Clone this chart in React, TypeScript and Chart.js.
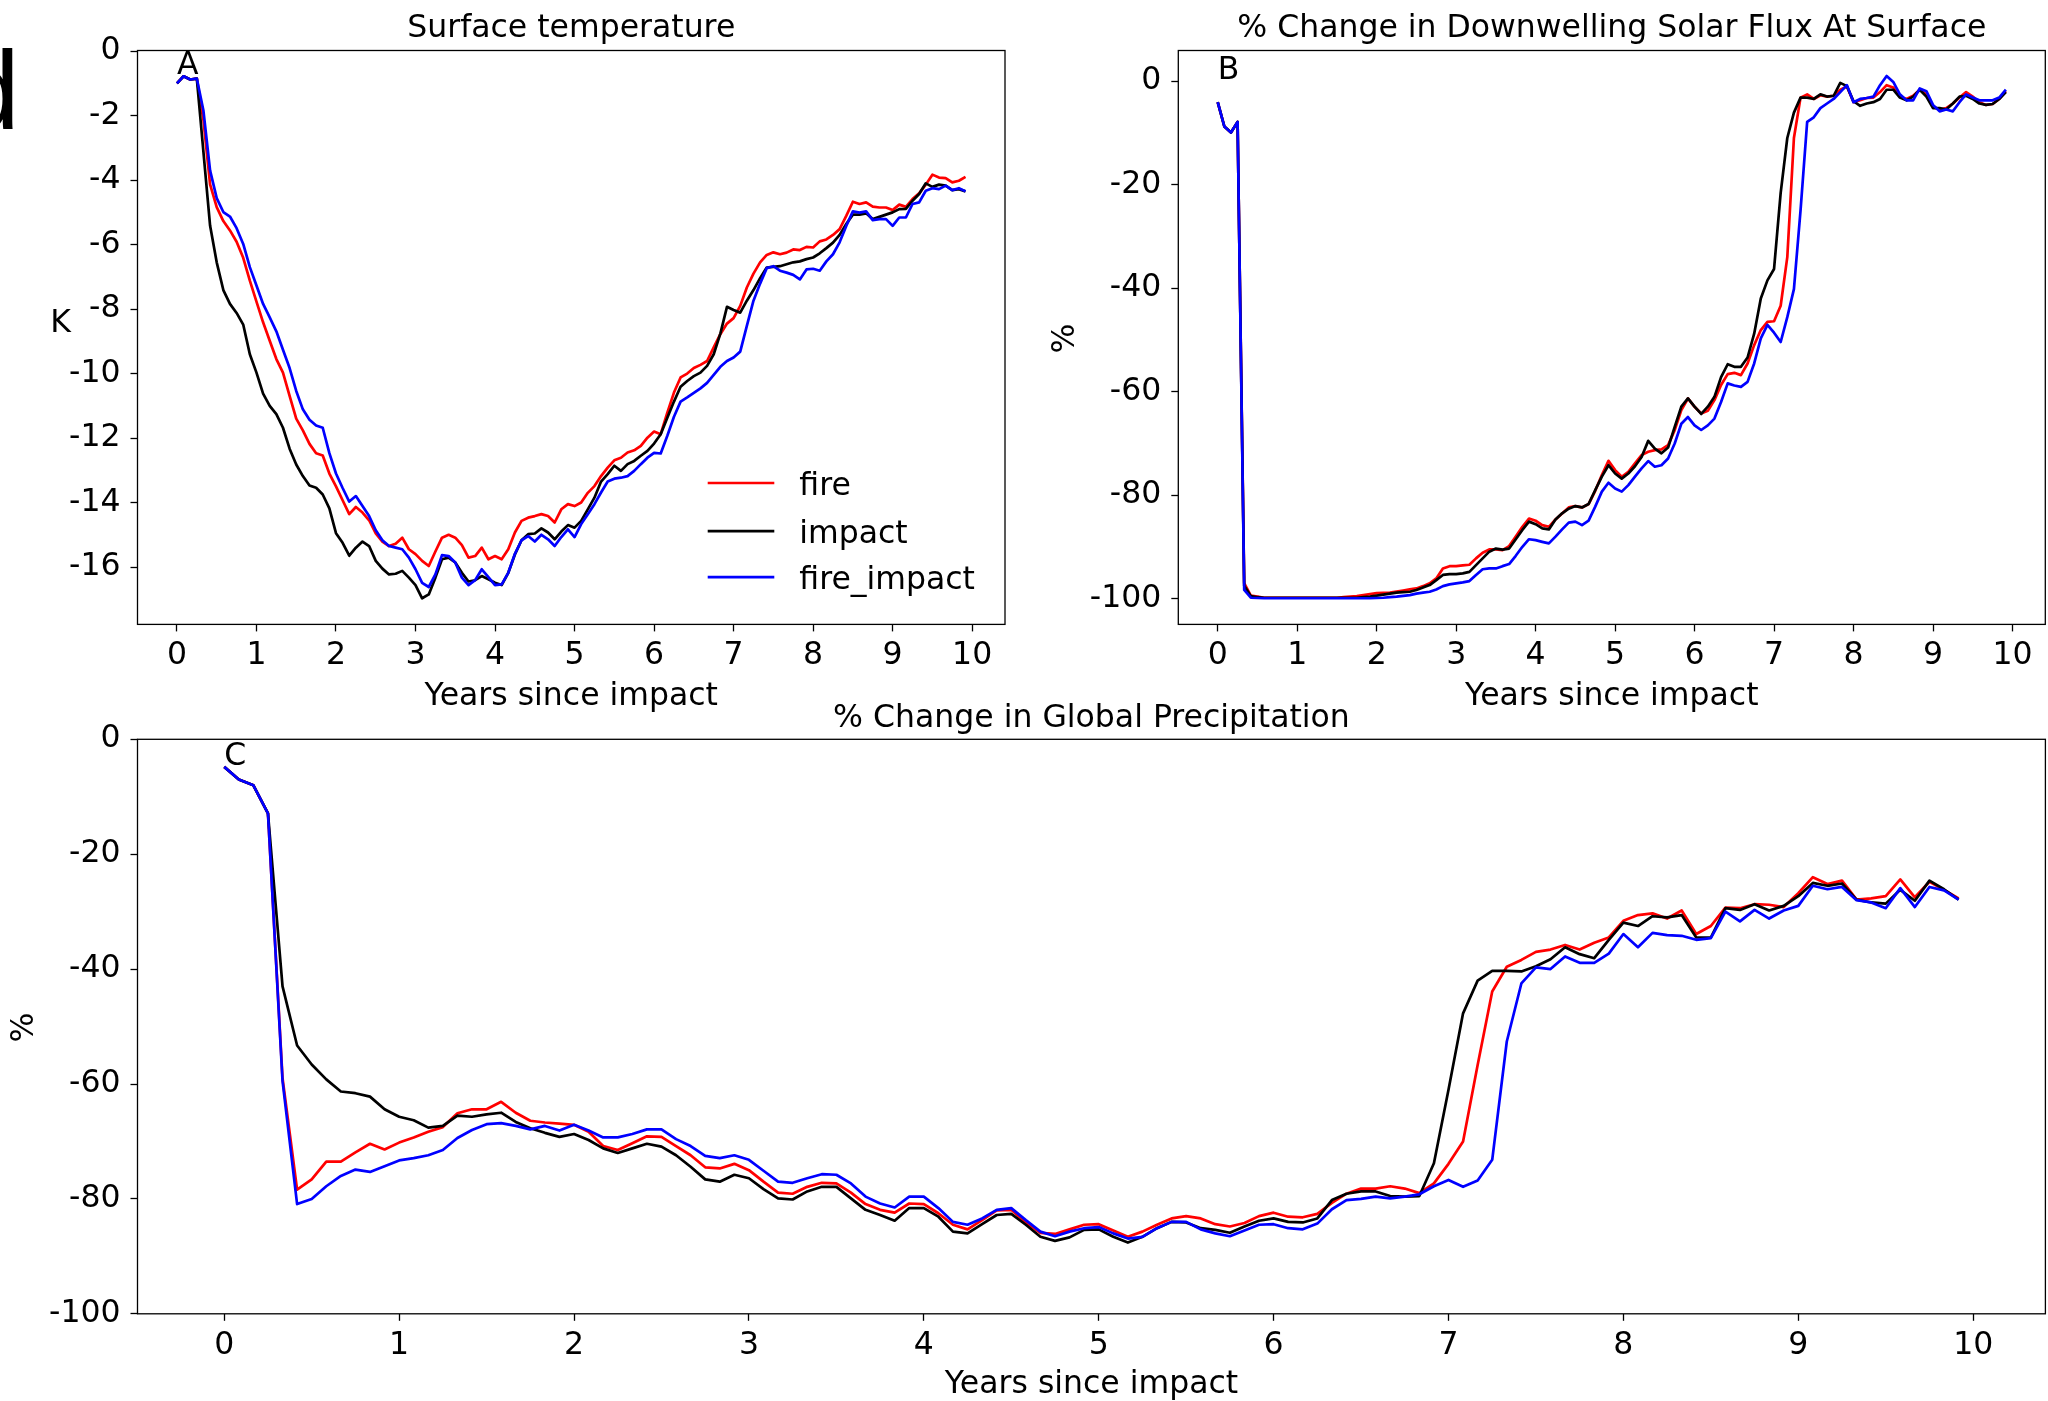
import React, { useEffect, useRef } from "react";
import { Chart, registerables } from "chart.js";

Chart.register(...registerables);

// ---------- data (monthly values, 120 months) ----------
const tempFire = [
  -1.0, -0.78, -0.88, -0.85, -2.14, -4.13, -4.84, -5.27, -5.56, -5.91,
  -6.41, -7.12, -7.77, -8.41, -8.98, -9.55, -9.97, -10.69, -11.4, -11.76,
  -12.18, -12.47, -12.54, -13.1, -13.5, -13.93, -14.36, -14.14, -14.31, -14.55,
  -14.96, -15.21, -15.35, -15.28, -15.09, -15.45, -15.6, -15.81, -15.97, -15.52,
  -15.09, -15.0, -15.09, -15.32, -15.71, -15.66, -15.4, -15.76, -15.66, -15.76,
  -15.45, -14.93, -14.57, -14.47, -14.42, -14.36, -14.42, -14.62, -14.21, -14.05,
  -14.11, -14.0, -13.7, -13.49, -13.18, -12.92, -12.69, -12.61, -12.45, -12.38,
  -12.24, -11.99, -11.8, -11.88, -11.21, -10.59, -10.12, -10.0, -9.83, -9.73,
  -9.61, -9.19, -8.78, -8.45, -8.28, -7.9, -7.33, -6.9, -6.55, -6.32,
  -6.24, -6.3, -6.25, -6.15, -6.17, -6.07, -6.09, -5.9, -5.84, -5.7,
  -5.52, -5.11, -4.67, -4.74, -4.69, -4.82, -4.85, -4.85, -4.93, -4.76,
  -4.83, -4.59, -4.41, -4.14, -3.83, -3.92, -3.94, -4.07, -4.02, -3.9,
];
const tempImpact = [
  -1.0, -0.78, -0.88, -0.85, -3.13, -5.41, -6.55, -7.41, -7.84, -8.12,
  -8.48, -9.4, -9.97, -10.62, -11.0, -11.26, -11.68, -12.33, -12.82, -13.18,
  -13.47, -13.54, -13.75, -14.18, -14.95, -15.25, -15.65, -15.4, -15.21, -15.35,
  -15.81, -16.05, -16.23, -16.21, -16.12, -16.33, -16.56, -16.97, -16.85, -16.33,
  -15.76, -15.71, -15.86, -16.18, -16.45, -16.41, -16.28, -16.38, -16.49, -16.56,
  -16.18, -15.61, -15.17, -14.98, -14.96, -14.8, -14.93, -15.14, -14.9, -14.7,
  -14.78, -14.57, -14.21, -13.85, -13.35, -13.12, -12.86, -13.02, -12.81, -12.71,
  -12.55, -12.4, -12.17, -11.88, -11.37, -10.87, -10.41, -10.23, -10.08, -9.97,
  -9.76, -9.4, -8.76, -7.93, -8.03, -8.11, -7.74, -7.41, -7.04, -6.71,
  -6.69, -6.67, -6.61, -6.55, -6.52, -6.45, -6.4, -6.27, -6.11, -5.94,
  -5.7, -5.36, -5.07, -5.07, -5.03, -5.21, -5.14, -5.07, -5.0, -4.9,
  -4.89, -4.64, -4.43, -4.1, -4.21, -4.14, -4.17, -4.31, -4.28, -4.35,
];
const tempFireImpact = [
  -1.0, -0.78, -0.88, -0.85, -1.85, -3.7, -4.56, -4.99, -5.13, -5.49,
  -5.98, -6.7, -7.27, -7.84, -8.26, -8.69, -9.26, -9.83, -10.54, -11.11,
  -11.43, -11.61, -11.68, -12.47, -13.1, -13.55, -13.97, -13.8, -14.11, -14.42,
  -14.86, -15.17, -15.35, -15.4, -15.45, -15.71, -16.07, -16.49, -16.62, -16.23,
  -15.63, -15.66, -15.86, -16.33, -16.56, -16.41, -16.07, -16.31, -16.56, -16.54,
  -16.18, -15.59, -15.17, -15.04, -15.21, -15.0, -15.14, -15.35, -15.07, -14.83,
  -15.07, -14.67, -14.36, -14.05, -13.69, -13.35, -13.26, -13.23, -13.18, -13.02,
  -12.81, -12.61, -12.46, -12.48, -11.93, -11.34, -10.87, -10.74, -10.6, -10.46,
  -10.29, -10.04, -9.79, -9.61, -9.5, -9.32, -8.52, -7.74, -7.21, -6.73,
  -6.67, -6.81, -6.87, -6.94, -7.08, -6.77, -6.75, -6.81, -6.52, -6.3,
  -5.93, -5.42, -4.97, -5.01, -4.97, -5.24, -5.21, -5.21, -5.42, -5.16,
  -5.16, -4.74, -4.69, -4.33, -4.25, -4.28, -4.17, -4.31, -4.25, -4.35,
];

const fluxFire = [
  -4.08, -8.78, -9.93, -7.89, -97.0, -99.4, -99.6, -99.8, -99.8, -99.8,
  -99.8, -99.8, -99.8, -99.8, -99.8, -99.8, -99.8, -99.8, -99.8, -99.7,
  -99.6, -99.5, -99.3, -99.1, -98.9, -98.85, -98.8, -98.6, -98.4, -98.2,
  -98.0, -97.56, -97.0, -96.07, -94.14, -93.7, -93.7, -93.56, -93.43, -92.2,
  -91.1, -90.47, -90.47, -90.6, -89.82, -88.0, -86.1, -84.5, -84.93, -85.77,
  -86.1, -84.68, -83.52, -82.36, -82.1, -82.36, -81.71, -79.14, -76.1, -73.35,
  -75.15, -76.44, -75.47, -73.86, -72.25, -71.61, -71.28, -71.16, -70.32, -67.43,
  -63.57, -61.31, -62.92, -64.21, -63.7, -61.63, -58.7, -56.6, -56.36, -56.8,
  -54.55, -51.0, -48.1, -46.5, -46.4, -43.4, -34.0, -11.0, -3.2, -2.57,
  -3.46, -2.75, -3.0, -2.84, -1.68, -1.06, -4.08, -3.72, -3.28, -3.19,
  -2.13, -0.8, -1.24, -3.0, -3.46, -2.84, -1.68, -2.57, -4.96, -5.5,
  -5.23, -4.34, -3.19, -2.13, -3.0, -4.08, -4.61, -4.43, -3.46, -1.95,
];
const fluxImpact = [
  -4.08, -8.78, -9.93, -7.89, -97.5, -99.5, -99.7, -99.8, -99.8, -99.8,
  -99.8, -99.8, -99.8, -99.8, -99.8, -99.8, -99.8, -99.8, -99.8, -99.8,
  -99.8, -99.8, -99.7, -99.6, -99.4, -99.2, -99.0, -98.8, -98.7, -98.64,
  -98.3, -97.8, -97.35, -96.4, -95.4, -95.24, -95.24, -95.1, -94.8, -93.5,
  -92.2, -90.9, -90.3, -90.5, -90.3, -88.5, -86.7, -85.1, -85.6, -86.4,
  -86.6, -84.7, -83.5, -82.6, -82.1, -82.36, -81.7, -79.0, -76.4, -74.2,
  -75.8, -76.8, -75.8, -74.4, -72.6, -69.5, -71.0, -71.9, -70.8, -66.8,
  -62.9, -61.3, -62.9, -64.3, -62.9, -61.0, -57.2, -54.7, -55.2, -55.2,
  -53.4, -48.8, -42.0, -38.5, -36.3, -21.6, -11.0, -6.1, -3.2, -3.2,
  -3.46, -2.57, -3.0, -2.84, -0.35, -0.98, -3.9, -4.79, -4.34, -4.08,
  -3.46, -1.68, -1.68, -3.19, -3.72, -3.0, -1.68, -3.0, -5.23, -5.23,
  -5.5, -4.34, -3.0, -2.84, -3.46, -4.34, -4.61, -4.43, -3.46, -2.13,
];
const fluxFireImpact = [
  -4.08, -8.78, -9.93, -7.89, -98.3, -99.8, -99.85, -99.9, -99.9, -99.9,
  -99.9, -99.9, -99.9, -99.9, -99.9, -99.9, -99.9, -99.9, -99.9, -99.9,
  -99.9, -99.9, -99.9, -99.9, -99.85, -99.8, -99.7, -99.6, -99.45, -99.3,
  -99.0, -98.8, -98.64, -98.2, -97.56, -97.23, -97.03, -96.84, -96.58, -95.4,
  -94.3, -94.14, -94.14, -93.7, -93.3, -91.7, -89.96, -88.5, -88.67, -89.0,
  -89.3, -88.0, -86.6, -85.3, -85.1, -85.77, -84.9, -82.2, -79.3, -77.6,
  -78.7, -79.3, -78.05, -76.4, -74.8, -73.4, -74.5, -74.2, -72.9, -70.0,
  -66.2, -64.9, -66.5, -67.4, -66.5, -65.2, -62.0, -58.4, -58.8, -59.06,
  -58.1, -54.55, -49.7, -47.1, -48.6, -50.4, -45.6, -40.2, -25.0, -7.9,
  -7.0, -5.23, -4.34, -3.46, -2.13, -0.8, -4.08, -3.46, -3.28, -3.0,
  -0.8, 0.98, -0.18, -2.57, -3.72, -3.72, -1.42, -1.95, -4.61, -5.85,
  -5.5, -5.85, -4.08, -2.57, -3.19, -3.72, -3.72, -3.72, -3.19, -1.68,
];

const precipFire = [
  -4.8, -7.0, -8.0, -12.9, -59.0, -78.4, -76.6, -73.5, -73.5, -71.9,
  -70.4, -71.4, -70.2, -69.3, -68.3, -67.5, -65.1, -64.4, -64.4, -63.1,
  -65.0, -66.4, -66.7, -66.9, -67.1, -68.3, -70.8, -71.5, -70.3, -69.1,
  -69.2, -70.8, -72.4, -74.5, -74.7, -73.9, -75.0, -77.0, -78.9, -79.1,
  -77.9, -77.2, -77.3, -78.9, -80.9, -81.9, -82.4, -80.8, -80.9, -82.5,
  -84.5, -85.3, -83.7, -82.0, -81.9, -84.1, -85.9, -86.1, -85.3, -84.5,
  -84.4, -85.5, -86.6, -85.7, -84.5, -83.4, -83.0, -83.4, -84.4, -84.8,
  -84.2, -83.0, -82.4, -83.1, -83.2, -82.6, -80.7, -79.1, -78.2, -78.2,
  -77.8, -78.2, -79.0, -77.3, -73.9, -70.0, -56.7, -43.9, -39.6, -38.4,
  -37.0, -36.6, -35.8, -36.6, -35.4, -34.5, -31.6, -30.6, -30.3, -31.2,
  -29.8, -33.9, -32.5, -29.3, -29.4, -28.7, -28.8, -29.2, -26.8, -24.0,
  -25.2, -24.6, -27.9, -27.7, -27.3, -24.4, -27.5, -24.8, -26.2, -27.7,
];
const precipImpact = [
  -4.8, -7.0, -8.0, -12.9, -43.0, -53.3, -56.6, -59.2, -61.3, -61.6,
  -62.2, -64.4, -65.7, -66.3, -67.6, -67.3, -65.5, -65.7, -65.3, -65.0,
  -66.6, -67.7, -68.5, -69.2, -68.7, -69.75, -71.2, -72.0, -71.2, -70.4,
  -70.9, -72.4, -74.4, -76.6, -77.0, -75.8, -76.4, -78.3, -79.9, -80.1,
  -78.7, -77.9, -77.9, -79.9, -81.9, -82.8, -83.8, -81.6, -81.6, -83.1,
  -85.7, -86.0, -84.4, -82.8, -82.6, -84.5, -86.6, -87.3, -86.7, -85.4,
  -85.3, -86.6, -87.6, -86.6, -85.1, -84.0, -84.1, -85.1, -85.4, -85.9,
  -84.8, -83.8, -83.4, -84.0, -84.1, -83.4, -80.2, -79.1, -78.7, -78.7,
  -79.5, -79.6, -79.5, -73.8, -61.0, -47.7, -42.0, -40.3, -40.3, -40.4,
  -39.5, -38.3, -36.2, -37.4, -38.1, -34.9, -31.9, -32.5, -30.8, -31.0,
  -30.6, -34.5, -34.5, -29.4, -29.7, -28.7, -29.8, -29.0, -27.3, -25.0,
  -25.5, -25.1, -27.9, -28.4, -28.6, -26.2, -28.1, -24.6, -26.1, -27.9,
];
const precipFireImpact = [
  -4.8, -7.0, -8.0, -12.9, -59.5, -80.9, -80.0, -77.8, -76.0, -74.9,
  -75.3, -74.3, -73.3, -72.9, -72.4, -71.5, -69.4, -68.0, -67.0, -66.8,
  -67.3, -67.9, -67.3, -68.1, -67.1, -68.1, -69.3, -69.3, -68.7, -67.9,
  -67.9, -69.6, -70.8, -72.5, -72.9, -72.4, -73.2, -75.1, -77.0, -77.2,
  -76.4, -75.7, -75.8, -77.3, -79.6, -80.8, -81.5, -79.6, -79.6, -81.6,
  -84.0, -84.5, -83.4, -81.9, -81.6, -83.7, -85.7, -86.5, -85.7, -85.1,
  -84.9, -86.0, -86.9, -86.6, -85.1, -84.0, -84.0, -85.3, -86.0, -86.5,
  -85.5, -84.5, -84.4, -85.1, -85.3, -84.3, -81.8, -80.2, -80.0, -79.6,
  -79.9, -79.6, -79.2, -77.8, -76.7, -77.9, -76.8, -73.2, -52.6, -42.5,
  -39.7, -40.0, -37.8, -38.9, -38.9, -37.3, -33.9, -36.2, -33.7, -34.1,
  -34.2, -34.9, -34.6, -30.0, -31.7, -29.7, -31.2, -29.8, -29.0, -25.5,
  -26.1, -25.7, -28.0, -28.4, -29.4, -25.9, -29.2, -25.7, -26.3, -27.9,
];

const MONTHS_PER_YEAR = 12;
const yearTicks = [0, 1, 2, 3, 4, 5, 6, 7, 8, 9, 10];
const tempTicks = [0, -2, -4, -6, -8, -10, -12, -14, -16];
const fluxTicks = [0, -20, -40, -60, -80, -100];
const precipTicks = [0, -20, -40, -60, -80, -100];
const seriesNames = ["fire", "impact", "fire_impact"];
const seriesColors = ["#ff0000", "#000000", "#0000ff"];

// ---------- styling / layout ----------
const W = 2048;
const H = 1401;
const FONT = '"DejaVu Sans", "Noto Sans", sans-serif';
const FS = 31.5;
const LINE_W = 2.7;
const Y_AXIS_W = 130;

type Box = { left: number; top: number; right: number; bottom: number };

interface PanelSpec {
  box: Box;
  xMin: number;
  xMax: number;
  yMin: number;
  yMax: number;
  yTicks: number[];
  series: number[][];
  decor: any;
}

const panels: PanelSpec[] = [
  {
    box: { left: 137.5, top: 50.5, right: 1005, bottom: 624.4 },
    xMin: -0.496,
    xMax: 10.413,
    yMin: -17.78,
    yMax: 0.02,
    yTicks: tempTicks,
    series: [tempFire, tempImpact, tempFireImpact],
    decor: {
      title: "Surface temperature",
      titleBaseline: 36.7,
      xLabel: "Years since impact",
      xLabelBaseline: 705,
      yLabel: "K",
      yLabelRotated: false,
      yLabelX: 60.7,
      yLabelY: 331.5,
      letter: "A",
      letterBaseline: 73.5,
      legend: { x0: 707.7, x1: 774.3, textX: 799.3, ys: [483, 531.2, 577.1] },
      bigLetter: { text: "d", x: -42, baseline: 128.6, size: 111 },
    },
  },
  {
    box: { left: 1178.3, top: 50.5, right: 2045.3, bottom: 624.4 },
    xMin: -0.496,
    xMax: 10.413,
    yMin: -104.95,
    yMax: 5.9,
    yTicks: fluxTicks,
    series: [fluxFire, fluxImpact, fluxFireImpact],
    decor: {
      title: "% Change in Downwelling Solar Flux At Surface",
      titleBaseline: 36.7,
      xLabel: "Years since impact",
      xLabelBaseline: 705,
      yLabel: "%",
      yLabelRotated: true,
      yLabelX: 1066,
      yLabelY: 338.6,
      letter: "B",
      letterBaseline: 79,
    },
  },
  {
    box: { left: 137.5, top: 739.3, right: 2045.4, bottom: 1313.8 },
    xMin: -0.496,
    xMax: 10.413,
    yMin: -100,
    yMax: 0,
    yTicks: precipTicks,
    series: [precipFire, precipImpact, precipFireImpact],
    decor: {
      title: "% Change in Global Precipitation",
      titleBaseline: 726.8,
      xLabel: "Years since impact",
      xLabelBaseline: 1393,
      yLabel: "%",
      yLabelRotated: true,
      yLabelX: 24.5,
      yLabelY: 1027.5,
      letter: "C",
      letterBaseline: 764.8,
    },
  },
];

const decorPlugin = {
  id: "decor",
  afterDraw(chart: any, _args: any, opts: any) {
    const ctx: CanvasRenderingContext2D = chart.ctx;
    const a = chart.chartArea;
    const xs = chart.scales.x;
    ctx.save();
    // frame (all four spines)
    ctx.lineWidth = 1.3;
    ctx.strokeStyle = "#000";
    ctx.strokeRect(a.left, a.top, a.right - a.left, a.bottom - a.top);

    ctx.fillStyle = "#000";
    ctx.font = `${FS}px ${FONT}`;
    ctx.textBaseline = "alphabetic";
    ctx.textAlign = "center";
    const cx = (a.left + a.right) / 2;
    ctx.fillText(opts.title, cx, opts.titleBaseline);
    ctx.fillText(opts.xLabel, cx, opts.xLabelBaseline);

    if (opts.yLabelRotated) {
      ctx.save();
      ctx.translate(opts.yLabelX, opts.yLabelY);
      ctx.rotate(-Math.PI / 2);
      ctx.textBaseline = "middle";
      ctx.fillText(opts.yLabel, 0, 0);
      ctx.restore();
    } else {
      ctx.fillText(opts.yLabel, opts.yLabelX, opts.yLabelY);
    }

    ctx.textAlign = "left";
    ctx.fillText(opts.letter, xs.getPixelForValue(0), opts.letterBaseline);

    if (opts.legend) {
      const L = opts.legend;
      seriesNames.forEach((name, k) => {
        ctx.beginPath();
        ctx.strokeStyle = seriesColors[k];
        ctx.lineWidth = LINE_W;
        ctx.moveTo(L.x0, L.ys[k]);
        ctx.lineTo(L.x1, L.ys[k]);
        ctx.stroke();
        ctx.fillStyle = "#000";
        ctx.fillText(name, L.textX, L.ys[k] + 11.5);
      });
    }

    if (opts.bigLetter) {
      const b = opts.bigLetter;
      ctx.fillStyle = "#000";
      ctx.font = `${b.size}px "Liberation Sans", Arial, sans-serif`;
      ctx.textAlign = "left";
      ctx.textBaseline = "alphabetic";
      ctx.fillText(b.text, b.x, b.baseline);
    }
    ctx.restore();
  },
};

function makeConfig(p: PanelSpec): any {
  const datasets = p.series.map((vals, k) => ({
    label: seriesNames[k],
    data: vals.map((v, i) => ({ x: i / MONTHS_PER_YEAR, y: v })),
    borderColor: seriesColors[k],
    backgroundColor: seriesColors[k],
    borderWidth: LINE_W,
    pointRadius: 0,
    pointHoverRadius: 0,
    fill: false,
    tension: 0,
    borderJoinStyle: "round",
    order: 3 - k,
  }));
  const tickFont = { family: FONT, size: FS, lineHeight: 1.2 };
  return {
    type: "line",
    data: { datasets },
    plugins: [decorPlugin],
    options: {
      animation: false,
      responsive: false,
      maintainAspectRatio: false,
      devicePixelRatio: 1,
      events: [],
      layout: {
        autoPadding: false,
        padding: {
          left: p.box.left - Y_AXIS_W,
          top: p.box.top,
          right: W - p.box.right,
          bottom: 0,
        },
      },
      plugins: {
        legend: { display: false },
        title: { display: false },
        tooltip: { enabled: false },
        decor: p.decor,
      },
      scales: {
        x: {
          type: "linear",
          min: p.xMin,
          max: p.xMax,
          afterBuildTicks: (s: any) => {
            s.ticks = yearTicks.map((v) => ({ value: v }));
          },
          afterFit: (s: any) => {
            s.height = H - p.box.bottom;
          },
          ticks: {
            autoSkip: false,
            maxRotation: 0,
            minRotation: 0,
            padding: 6,
            color: "#000",
            font: tickFont,
            callback: (v: number) => String(v),
          },
          grid: {
            display: true,
            drawOnChartArea: false,
            drawTicks: true,
            tickLength: 7,
            tickColor: "#000",
            tickWidth: 1.3,
            color: "#000",
          },
          border: { display: false },
        },
        y: {
          type: "linear",
          min: p.yMin,
          max: p.yMax,
          afterBuildTicks: (s: any) => {
            s.ticks = p.yTicks.map((v) => ({ value: v }));
          },
          afterFit: (s: any) => {
            s.width = Y_AXIS_W;
          },
          ticks: {
            autoSkip: false,
            padding: 10,
            color: "#000",
            font: tickFont,
            callback: (v: number) => String(v),
          },
          grid: {
            display: true,
            drawOnChartArea: false,
            drawTicks: true,
            tickLength: 7,
            tickColor: "#000",
            tickWidth: 1.3,
            color: "#000",
          },
          border: { display: false },
        },
      },
    },
  };
}

export default function App() {
  const refA = useRef<HTMLCanvasElement>(null);
  const refB = useRef<HTMLCanvasElement>(null);
  const refC = useRef<HTMLCanvasElement>(null);

  useEffect(() => {
    const refs = [refA, refB, refC];
    const charts = panels.map((p, i) => new Chart(refs[i].current as HTMLCanvasElement, makeConfig(p)));
    return () => charts.forEach((c) => c.destroy());
  }, []);

  const canvasStyle: React.CSSProperties = {
    position: "absolute",
    left: 0,
    top: 0,
    width: W,
    height: H,
  };

  return (
    <div
      style={{
        position: "absolute",
        left: 0,
        top: 0,
        width: W,
        height: H,
        overflow: "hidden",
        background: "#ffffff",
      }}
    >
      <canvas ref={refA} width={W} height={H} style={canvasStyle} />
      <canvas ref={refB} width={W} height={H} style={canvasStyle} />
      <canvas ref={refC} width={W} height={H} style={canvasStyle} />
    </div>
  );
}
